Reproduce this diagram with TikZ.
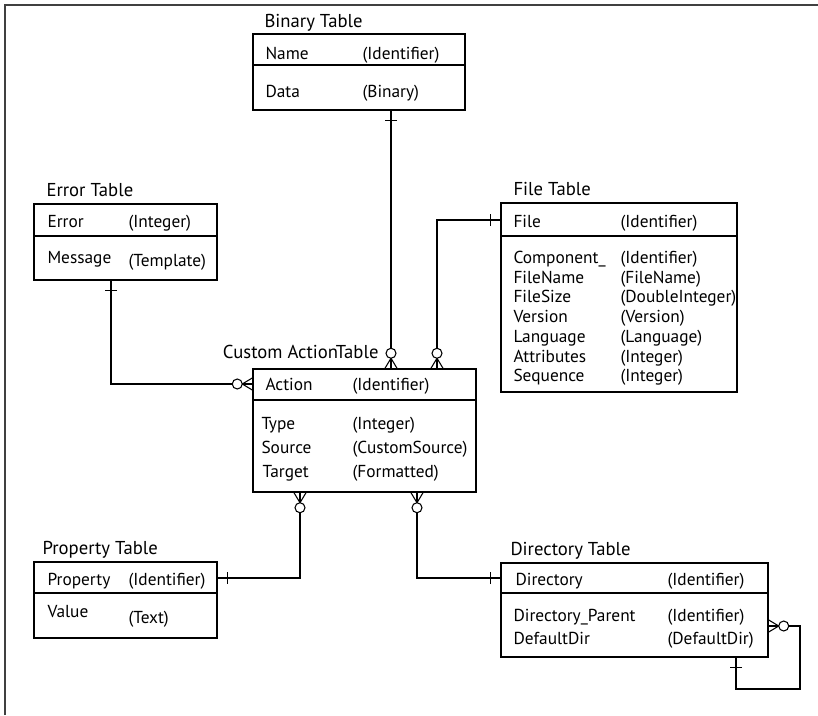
\documentclass[tikz,border=0pt]{standalone}
\usepackage{fontspec}
\setmainfont{PT Sans}
\usetikzlibrary{fit,decorations.markings}

\begin{document}
\begin{tikzpicture}[x=0.75pt, y=-0.75pt, line width=0.8pt,
    tbl/.style={draw, line width=1.1pt, inner sep=0pt},
    ttl/.style={font=\fontsize{14}{15}\selectfont, anchor=base west, inner sep=0pt},
    fld/.style={font=\fontsize{13}{14}\selectfont, anchor=base west, inner sep=0pt},
    onestart/.style={postaction={decorate, decoration={markings,
        mark=at position 7.5pt with {\draw (0,-6) -- (0,6);}}}},
    manyend/.style={postaction={decorate, decoration={markings,
        mark=at position 1 with {\draw (-10,0) -- (0,6) (-10,0) -- (0,-6);
                                 \draw[fill=white] (-15,0) circle[radius=5];}}}}]

% full original canvas
\useasboundingbox (0,0) rectangle (818,715);

% ---- frame (only top and left edges are inside the canvas) ----
\draw[line width=1.5pt, black!75] (5,715) -- (5,5) -- (818,5);

% ---- Binary Table ----
\node[ttl] (binary-ttl) at (264,27) {Binary Table};
\node[tbl, fit={(253,34) (465,110)}] (binary) {};
\draw (binary.west |- 0,65) -- (binary.east |- 0,65);
\node[fld] (binary-k)  at (265,59) {Name};
\node[fld] (binary-kt) at (362,59) {(Identifier)};
\node[fld] (binary-a)  at (265,97) {Data};
\node[fld] (binary-at) at (362,97) {(Binary)};

% ---- Error Table ----
\node[ttl] (error-ttl) at (46,196) {Error Table};
\node[tbl, fit={(34,204) (217,280)}] (error) {};
\draw (error.west |- 0,236) -- (error.east |- 0,236);
\node[fld] (error-k)  at (47,227)  {Error};
\node[fld] (error-kt) at (128,227) {(Integer)};
\node[fld] (error-a)  at (47,263)  {Message};
\node[fld] (error-at) at (128,266) {(Template)};

% ---- File Table ----
\node[ttl] (file-ttl) at (513,195) {File Table};
\node[tbl, fit={(501,203) (737,392)}] (file) {};
\draw (file.west |- 0,236) -- (file.east |- 0,236);
\node[fld] (file-k)  at (513,227)   {File};
\node[fld] (file-kt) at (620,227)   {(Identifier)};
\node[fld] (file-a)  at (513,263)   {Component\_};
\node[fld] (file-at) at (620,263)   {(Identifier)};
\node[fld] (file-b)  at (513,283)   {FileName};
\node[fld] (file-bt) at (620,283)   {(FileName)};
\node[fld] (file-c)  at (513,302.5) {FileSize};
\node[fld] (file-ct) at (620,302.5) {(DoubleInteger)};
\node[fld] (file-d)  at (513,322)   {Version};
\node[fld] (file-dt) at (620,322)   {(Version)};
\node[fld] (file-e)  at (513,342)   {Language};
\node[fld] (file-et) at (620,342)   {(Language)};
\node[fld] (file-f)  at (513,362)   {Attributes};
\node[fld] (file-ft) at (620,362)   {(Integer)};
\node[fld] (file-g)  at (513,381.5) {Sequence};
\node[fld] (file-gt) at (620,381.5) {(Integer)};

% ---- Custom Action Table ----
\node[ttl, anchor=base east] (action-ttl) at (379,358) {Custom ActionTable};
\node[tbl, fit={(253,369) (476,492)}] (action) {};
\draw (action.west |- 0,400) -- (action.east |- 0,400);
\node[fld] (action-k)  at (265,390) {Action};
\node[fld] (action-kt) at (352,390) {(Identifier)};
\node[fld] (action-a)  at (261,429) {Type};
\node[fld] (action-at) at (352,429) {(Integer)};
\node[fld] (action-b)  at (261,453) {Source};
\node[fld] (action-bt) at (352,453) {(CustomSource)};
\node[fld] (action-c)  at (262,477) {Target};
\node[fld] (action-ct) at (352,477) {(Formatted)};

% ---- Property Table ----
\node[ttl] (property-ttl) at (42,554) {Property Table};
\node[tbl, fit={(34,562) (217,638)}] (property) {};
\draw (property.west |- 0,593) -- (property.east |- 0,593);
\node[fld] (property-k)  at (47,585)  {Property};
\node[fld] (property-kt) at (128,585) {(Identifier)};
\node[fld] (property-a)  at (47,617)  {Value};
\node[fld] (property-at) at (128,623) {(Text)};

% ---- Directory Table ----
\node[ttl] (directory-ttl) at (510,555) {Directory Table};
\node[tbl, fit={(501,563) (768,657)}] (directory) {};
\draw (directory.west |- 0,593) -- (directory.east |- 0,593);
\node[fld] (directory-k)  at (515,585) {Directory};
\node[fld] (directory-kt) at (667,585) {(Identifier)};
\node[fld] (directory-a)  at (513,621) {Directory\_Parent};
\node[fld] (directory-at) at (667,621) {(Identifier)};
\node[fld] (directory-b)  at (513,644) {DefaultDir};
\node[fld] (directory-bt) at (667,644) {(DefaultDir)};

% ---- relations: one side -> zero-or-many side ----
\draw[onestart, manyend] (binary.south -| 391,0) -- (action.north -| 391,0);
\draw[onestart, manyend] (error.south -| 111,0) |- (action.west |- 0,384);
\draw[onestart, manyend] (file.west |- 0,220) -| (action.north -| 437,0);
\draw[onestart, manyend] (property.east |- 0,578) -| (action.south -| 300,0);
\draw[onestart, manyend] (directory.west |- 0,578) -| (action.south -| 417,0);
% parent directory (self reference)
\draw[onestart, manyend] (directory.south -| 736,0) -- (736,689) -| (800,626)
      -- (directory.east |- 0,626);

\end{tikzpicture}
\end{document}
